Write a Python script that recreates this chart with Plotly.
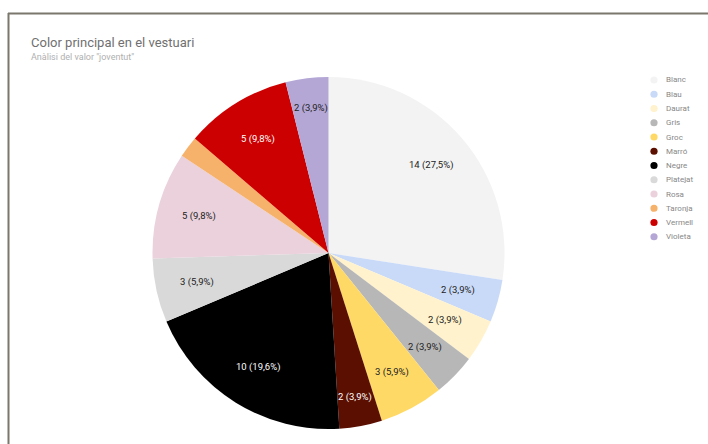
import math
import plotly.graph_objects as go

# Costume colour counts
categories = ["Blanc", "Blau", "Daurat", "Gris", "Groc", "Marró", "Negre",
              "Platejat", "Rosa", "Taronja", "Vermell", "Violeta"]
counts = [14, 2, 2, 2, 3, 2, 10, 3, 5, 1, 5, 2]
colors = ["#f3f3f3", "#c9daf8", "#fff2cc", "#b7b7b7", "#ffd966", "#5b0f00",
          "#000000", "#d9d9d9", "#ead1dc", "#f6b26b", "#cc0000", "#b4a7d6"]
text_colors = ["#222", "#222", "#222", "#222", "#222", "#fff", "#fff",
               "#222", "#222", "#222", "#fff", "#222"]

W, H = 708, 444

# Pie placement in pixels
cx, cy, r = 328.5, 253.0, 176.0
dom_x = [(cx - r) / W, (cx + r) / W]
dom_y = [1 - (cy + r) / H, 1 - (cy - r) / H]

total = sum(counts)

fig = go.Figure()
fig.add_trace(go.Pie(
    labels=categories,
    values=counts,
    textinfo="none",
    marker=dict(colors=colors, line=dict(width=0)),
    sort=False,
    direction="clockwise",
    rotation=0,
    showlegend=False,
    hoverinfo="label+value+percent",
    domain=dict(x=dom_x, y=dom_y),
))


def angle_of(dx, dy):
    """Clockwise angle from 12 o'clock, in radians, for a screen offset."""
    return math.atan2(dx, -dy) % (2 * math.pi)


def fits(px, py, hw, hh, a0, a1):
    for sx in (-1, 1):
        for sy in (-1, 1):
            dx = px + sx * hw
            dy = py + sy * hh
            if math.hypot(dx, dy) > r - 2:
                return False
            a = angle_of(dx, dy)
            if a0 < 0 and a > math.pi:
                a -= 2 * math.pi
            if a1 > 2 * math.pi and a < math.pi:
                a += 2 * math.pi
            if not (a0 <= a <= a1):
                return False
    return True


# Slice labels "n (pct%)": start at ~3/4 radius, push outwards until the
# text box sits inside its wedge; very thin slices get no label
cum = 0.0
for v, tc in zip(counts, text_colors):
    frac = v / total
    a0 = cum * 2 * math.pi
    a1 = (cum + frac) * 2 * math.pi
    mid = (a0 + a1) / 2
    cum += frac
    if frac < 0.03:
        continue
    txt = f"{v} ({frac * 100:.1f}%)".replace(".", ",")
    hw, hh = 4.3 * len(txt) / 2, 5.0
    rho = 0.765 * r
    while rho < 0.9 * r:
        px, py = rho * math.sin(mid), -rho * math.cos(mid)
        if fits(px, py, hw, hh, a0, a1):
            break
        rho += 0.5
    lx = cx + rho * math.sin(mid)
    ly = cy - rho * math.cos(mid)
    fig.add_annotation(
        text=txt, xref="paper", yref="paper", x=lx / W, y=1 - ly / H,
        xanchor="center", yanchor="middle", showarrow=False,
        font=dict(family="Roboto", size=9.5, color=tc))

# Legend: round swatches with names
leg_x, leg_y0, leg_dy = 654.0, 80.0, 14.25
for i, (name, c) in enumerate(zip(categories, colors)):
    yy = leg_y0 + i * leg_dy
    fig.add_shape(type="circle", xref="paper", yref="paper",
                  x0=(leg_x - 3.6) / W, x1=(leg_x + 3.6) / W,
                  y0=1 - (yy + 3.6) / H, y1=1 - (yy - 3.6) / H,
                  fillcolor=c, line=dict(width=0))
    fig.add_annotation(
        text=name, xref="paper", yref="paper", x=(leg_x + 10) / W,
        y=1 - yy / H, xanchor="left", yanchor="middle", showarrow=False,
        font=dict(family="Roboto", size=8, color="#888888"))

# Card frame (top and left edges)
frame_color = "#7b776d"
fig.add_shape(type="line", xref="paper", yref="paper",
              x0=8 / W, x1=1.0, y0=1 - 13.5 / H, y1=1 - 13.5 / H,
              line=dict(color=frame_color, width=2))
fig.add_shape(type="line", xref="paper", yref="paper",
              x0=8.5 / W, x1=8.5 / W, y0=0, y1=1 - 13 / H,
              line=dict(color=frame_color, width=2))

fig.add_annotation(
    text="Color principal en el vestuari", xref="paper", yref="paper",
    x=29 / W, y=1 - 42 / H, xanchor="left", yanchor="middle",
    showarrow=False, font=dict(family="Roboto", size=13, color="#707070"))
fig.add_annotation(
    text="Anàlisi del valor \"joventut\"", xref="paper", yref="paper",
    x=29 / W, y=1 - 57 / H, xanchor="left", yanchor="middle",
    showarrow=False, font=dict(family="Roboto", size=9, color="#b0b0b0"))

fig.update_layout(
    width=W, height=H,
    margin=dict(l=0, r=0, t=0, b=0),
    paper_bgcolor="white",
    plot_bgcolor="white",
    showlegend=False,
)

fig.write_html("out.html", config={"displayModeBar": False})
